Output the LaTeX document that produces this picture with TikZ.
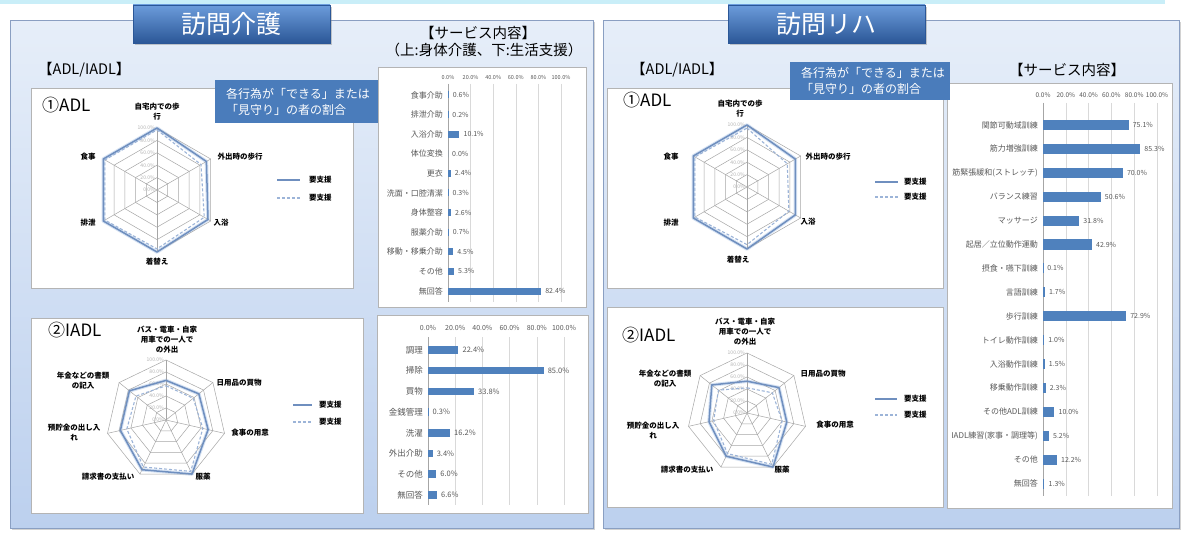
\documentclass[tikz,border=0pt]{standalone}
\usepackage{fontspec}
\setmainfont{Noto Sans CJK JP}
\usetikzlibrary{shadows}
\definecolor{panelTop}{HTML}{E6EEF9}
\definecolor{panelBot}{HTML}{BCD0EE}
\definecolor{panelLine}{HTML}{8A9FC2}
\definecolor{boxLine}{HTML}{B4B4B4}
\definecolor{titleTop}{HTML}{6C9CDB}
\definecolor{titleBot}{HTML}{2B5797}
\definecolor{calloutBlue}{HTML}{4A7CBB}
\definecolor{barBlue}{HTML}{4F81BD}
\definecolor{gridGray}{HTML}{D9D9D9}
\definecolor{txtGray}{HTML}{595959}
\definecolor{radarGrid}{HTML}{A6A6A6}
\definecolor{serSolid}{HTML}{6F8FBF}
\definecolor{serDash}{HTML}{9CB4D8}
\definecolor{serHalo}{HTML}{D5E2F3}
\definecolor{topStrip}{HTML}{C9EEF8}
\newcommand\fsz[2]{\fontsize{#1}{#2}\selectfont}
% radar grid: #1 n, #2 n-1, #3 R, #4 prefix
\newcommand\radargrid[4]{%
  \foreach \k in {1,...,5}{%
    \pgfmathsetmacro\rr{\k*#3/5}
    \draw[rgrid] (90:\rr pt) \foreach \i in {1,...,#2}{ -- (90-\i*360/#1:\rr pt)} -- cycle;
  }
  \foreach \i in {0,...,#2}{\draw[rgrid] (0,0) -- (90-\i*360/#1:#3pt);}
  \foreach \k/\t in {0/0.0,1/20.0,2/40.0,3/60.0,4/80.0,5/100.0}{%
    \pgfmathsetmacro\rr{\k*#3/5}
    \node[axlab] (#4a\k) at (-2,-\rr) {\t\%};
  }
}
% radar polygon: #1 style, #2 n, #3 R, #4 first value, #5 other values
\newcommand\radarpoly[5]{%
  \draw[#1] (90:#4*#3pt) \foreach \v [count=\i] in {#5}{ -- (90-\i*360/#2:\v*#3pt)} -- cycle;
}
% bar chart
\newcommand\drawbars[2]{%
  \foreach \k/\t in {0/0.0,1/20.0,2/40.0,3/60.0,4/80.0,5/100.0}{%
    \pgfmathsetmacro\gx{\bX+\k*\bS/5}
    \draw[gridl] (\gx,\gT) -- (\gx,\gB);
    \node[hlab] (#1h\k) at (\gx,\hY) {\t\%};
  }
  \draw[axl] (\bX,\gT) -- (\bX,\gB);
  \foreach \lab/\val [count=\i from 0] in {#2}{%
    \pgfmathsetmacro\yy{\bY+\i*\bD}
    \pgfmathsetmacro\xe{\bX+\val*\bS/100}
    \fill[barBlue] (\bX,\yy-\bH/2) rectangle (\xe,\yy+\bH/2);
    \node[blab] (#1l\i) at (\bX-5,\yy) {\lab};
    \node[vlab] (#1v\i) at (\xe+4,\yy) {\val\%};
  }
}
\begin{document}
\begin{tikzpicture}[x=1pt,y=-1pt,
 panel/.style={draw=panelLine, line width=1pt, top color=panelTop, bottom color=panelBot,
   drop shadow={shadow xshift=1.5pt,shadow yshift=-1.5pt,opacity=0.35}},
 wbox/.style={draw=boxLine, line width=0.8pt, fill=white,
   drop shadow={shadow xshift=1pt,shadow yshift=-1pt,opacity=0.25}},
 titlebox/.style={draw=titleBot, line width=0.6pt, top color=titleTop, bottom color=titleBot,
   text=white, font=\fsz{25}{28}, inner sep=0pt,
   drop shadow={shadow xshift=2pt,shadow yshift=-2pt,opacity=0.4}},
 callbox/.style={fill=calloutBlue, inner sep=0pt},
 callt/.style={text=white, font=\fsz{12}{16}, align=left, inner sep=0pt, anchor=west},
 head/.style={font=\fsz{14.5}{17}, inner sep=0pt},
 rgrid/.style={draw=radarGrid, line width=0.5pt},
 halo/.style={draw=serHalo, line width=3.5pt, line join=round},
 solidser/.style={draw=serSolid, line width=1.5pt, line join=round},
 dashser/.style={draw=serDash, line width=1.1pt, dash pattern=on 3pt off 2pt, line join=round},
 axlab/.style={anchor=east, inner sep=0pt, text=black!30, font=\fsz{5}{5}},
 rlab/.style={inner sep=0pt, font=\bfseries\fsz{7.5}{10}, align=center},
 leglab/.style={anchor=west, inner sep=0pt, font=\bfseries\fsz{7.5}{8}},
 chartttl/.style={anchor=west, inner sep=0pt, font=\fsz{17}{18}},
 gridl/.style={draw=gridGray, line width=0.5pt},
 axl/.style={draw=black!35, line width=0.5pt},
 blab/.style={anchor=east, inner sep=0pt, text=txtGray, font=\fsz{\bLF}{\bLF}},
 vlab/.style={anchor=west, inner sep=0pt, text=txtGray, font=\fsz{\bVF}{\bVF}},
 hlab/.style={inner sep=0pt, text=txtGray, font=\fsz{\bHF}{\bHF}}
]
\useasboundingbox (0,0) rectangle (1182,553);
\fill[white] (0,0) rectangle (1182,553);
\fill[topStrip] (0,0) rectangle (1165,4);

% ================= LEFT PANEL =================
\path[panel] (10,21) rectangle (593,528);
\path[wbox] (378,67) rectangle (586,307);
\path[wbox] (31,88) rectangle (353,288);
\path[wbox] (31,318) rectangle (363,513);
\path[wbox] (377,315) rectangle (588,513);
\node[titlebox, minimum width=197pt, minimum height=38pt] (t1) at (231.5,24) {訪問介護};
\node[head, anchor=west] (h1) at (38,70) {【ADL/IADL】};
\node[head] (s1) at (478,33) {【サービス内容】};
\node[head] (s1b) at (484,50) {（上:身体介護、下:生活支援）};

% ADL radar (left)
\node[chartttl] (l1t) at (42,105) {①ADL};
\begin{scope}[shift={(157,190)}]
 \radarpoly{halo}{6}{62}{1.0}{0.92,0.95,1.0,1.0,1.0}
 \radargrid{6}{5}{62}{la}
 \radarpoly{dashser}{6}{62}{0.97}{0.82,0.88,0.95,0.97,0.97}
 \radarpoly{solidser}{6}{62}{1.0}{0.92,0.95,1.0,1.0,1.0}
\end{scope}
\node[rlab] (la1) at (157,112) {自宅内での歩\\行};
\node[rlab] (la2) at (240,157) {外出時の歩行};
\node[rlab] (la3) at (221,223) {入浴};
\node[rlab] (la4) at (157,262) {着替え};
\node[rlab] (la5) at (88,223) {排泄};
\node[rlab] (la6) at (88,157) {食事};
\draw[solidser] (277,180) -- (300,180);
\node[leglab] (lg1) at (309,180) {要支援};
\draw[dashser] (277,198) -- (300,198);
\node[leglab] (lg2) at (309,198) {要支援};

% IADL radar (left)
\node[chartttl] (l2t) at (48,330) {②IADL};
\begin{scope}[shift={(166,420)}]
 \radarpoly{halo}{7}{60}{0.66}{0.70,0.72,1.0,0.92,0.78,0.78}
 \radargrid{7}{6}{60}{lb}
 \radarpoly{dashser}{7}{60}{0.57}{0.58,0.63,0.95,0.87,0.67,0.64}
 \radarpoly{solidser}{7}{60}{0.66}{0.70,0.72,1.0,0.92,0.78,0.78}
\end{scope}
\node[rlab] (lb1) at (167,340) {バス・電車・自家\\用車での一人で\\の外出};
\node[rlab] (lb2) at (239,383) {日用品の買物};
\node[rlab] (lb3) at (250,433) {食事の用意};
\node[rlab] (lb4) at (203,477) {服薬};
\node[rlab] (lb5) at (108,477) {請求書の支払い};
\node[rlab] (lb6) at (74,432) {預貯金の出し入\\れ};
\node[rlab] (lb7) at (83,381) {年金などの書類\\の記入};
\draw[solidser] (293,405) -- (312,405);
\node[leglab] (lg3) at (319,405) {要支援};
\draw[dashser] (293,422) -- (312,422);
\node[leglab] (lg4) at (319,422) {要支援};

% bar chart 1 (left top)
\def\bX{448}\def\bS{113}\def\bY{95}\def\bD{19.6}\def\bH{7}\def\gT{84}\def\gB{302}\def\hY{77}
\def\bLF{8}\def\bVF{7}\def\bHF{5.5}
\drawbars{p}{食事介助/0.6,排泄介助/0.2,入浴介助/10.1,体位変換/0.0,更衣/2.4,洗面・口腔清潔/0.3,身体整容/2.6,服薬介助/0.7,移動・移乗介助/4.5,その他/5.3,無回答/82.4}

% bar chart 2 (left bottom)
\def\bX{428}\def\bS{136}\def\bY{350}\def\bD{20.7}\def\bH{7.5}\def\gT{337}\def\gB{505}\def\hY{328}
\def\bLF{8.5}\def\bVF{7.5}\def\bHF{7}
\drawbars{q}{調理/22.4,掃除/85.0,買物/33.8,金銭管理/0.3,洗濯/16.2,外出介助/3.4,その他/6.0,無回答/6.6}

% callout (left)
\node[callbox, minimum width=163pt, minimum height=43pt] (c1) at (296.5,101.5) {};
\node[callt] (c1t) at (226,102) {各行為が「できる」または\\「見守り」の者の割合};

% ================= RIGHT PANEL =================
\path[panel] (603,21) rectangle (1179,528);
\path[wbox] (947,83) rectangle (1172,508);
\path[wbox] (607,88) rectangle (943,288);
\path[wbox] (607,307) rectangle (943,507);
\node[titlebox, minimum width=197pt, minimum height=38pt] (t2) at (826.5,24) {訪問リハ};
\node[head, anchor=west] (h2) at (631,70) {【ADL/IADL】};
\node[head] (s2) at (1067,70) {【サービス内容】};

% ADL radar (right)
\node[chartttl] (r1t) at (623,100) {①ADL};
\begin{scope}[shift={(747,187)}]
 \radarpoly{halo}{6}{62}{1.0}{0.9,0.9,1.0,1.0,1.0}
 \radargrid{6}{5}{62}{ra}
 \radarpoly{dashser}{6}{62}{0.95}{0.75,0.78,0.93,0.97,0.97}
 \radarpoly{solidser}{6}{62}{1.0}{0.9,0.9,1.0,1.0,1.0}
\end{scope}
\node[rlab] (ra1) at (740,109) {自宅内での歩\\行};
\node[rlab] (ra2) at (828,157) {外出時の歩行};
\node[rlab] (ra3) at (808,222) {入浴};
\node[rlab] (ra4) at (738,260) {着替え};
\node[rlab] (ra5) at (671,223) {排泄};
\node[rlab] (ra6) at (671,157) {食事};
\draw[solidser] (875,182) -- (898,182);
\node[leglab] (lg5) at (904,182) {要支援};
\draw[dashser] (875,197) -- (898,197);
\node[leglab] (lg6) at (904,197) {要支援};

% IADL radar (right)
\node[chartttl] (r2t) at (622,335) {②IADL};
\begin{scope}[shift={(747,413)}]
 \radarpoly{halo}{7}{60}{0.53}{0.68,0.68,1.0,0.8,0.65,0.75}
 \radargrid{7}{6}{60}{rb}
 \radarpoly{dashser}{7}{60}{0.42}{0.54,0.6,0.95,0.75,0.57,0.61}
 \radarpoly{solidser}{7}{60}{0.53}{0.68,0.68,1.0,0.8,0.65,0.75}
\end{scope}
\node[rlab] (rb1) at (745,332) {バス・電車・自家\\用車での一人で\\の外出};
\node[rlab] (rb2) at (823,374) {日用品の買物};
\node[rlab] (rb3) at (835,425) {食事の用意};
\node[rlab] (rb4) at (782,470) {服薬};
\node[rlab] (rb5) at (687,470) {請求書の支払い};
\node[rlab] (rb6) at (653,430) {預貯金の出し入\\れ};
\node[rlab] (rb7) at (665,379) {年金などの書類\\の記入};
\draw[solidser] (875,399) -- (897,399);
\node[leglab] (lg7) at (904,399) {要支援};
\draw[dashser] (875,415) -- (897,415);
\node[leglab] (lg8) at (904,415) {要支援};

% bar chart 3 (right)
\def\bX{1043}\def\bS{114}\def\bY{125}\def\bD{23.9}\def\bH{10}\def\gT{103}\def\gB{496}\def\hY{95}
\def\bLF{8}\def\bVF{7}\def\bHF{6.5}
\drawbars{r}{関節可動域訓練/75.1,筋力増強訓練/85.3,筋緊張緩和(ストレッチ)/70.0,バランス練習/50.6,マッサージ/31.8,起居／立位動作運動/42.9,摂食・嚥下訓練/0.1,言語訓練/1.7,歩行訓練/72.9,トイレ動作訓練/1.0,入浴動作訓練/1.5,移乗動作訓練/2.3,その他ADL訓練/10.0,IADL練習(家事・調理等)/5.2,その他/12.2,無回答/1.3}

% callout (right)
\node[callbox, minimum width=160pt, minimum height=38pt] (c2) at (870,81) {};
\node[callt] (c2t) at (801,81) {各行為が「できる」または\\「見守り」の者の割合};
\end{tikzpicture}
\end{document}
